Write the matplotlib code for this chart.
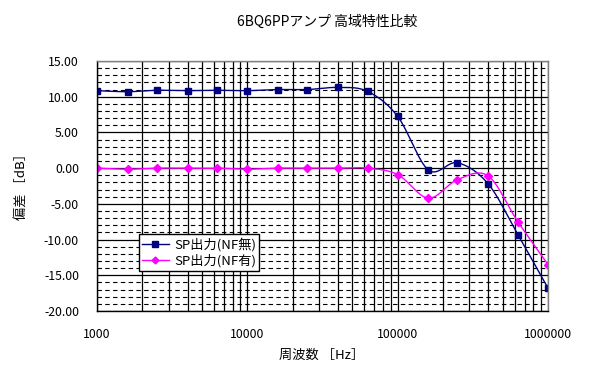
import numpy as np
import matplotlib
matplotlib.use("Agg")
import matplotlib.pyplot as plt
from matplotlib.ticker import FixedLocator, MultipleLocator, NullFormatter

plt.rcParams['font.family'] = ['Noto Sans CJK JP', 'DejaVu Sans']

# data
freq = [1000, 1600, 2500, 4000, 6300, 10000, 16000, 25000, 40000, 63000,
        100000, 160000, 250000, 400000, 630000, 1000000]
nf_off = [10.85, 10.7, 10.9, 10.85, 10.9, 10.85, 11.0, 11.0, 11.3, 10.75,
          7.25, -0.25, 0.75, -2.2, -9.3, -16.8]
nf_on = [0.0, -0.15, 0.0, 0.0, 0.0, -0.15, 0.0, 0.0, 0.0, 0.0,
         -0.9, -4.2, -1.6, -1.1, -7.5, -13.5]
labels = ['SP出力(NF無)', 'SP出力(NF有)']
x_ticks = [1000, 10000, 100000, 1000000]


def smooth(xs, ys, n=20):
    # Catmull-Rom curve in log-x space, like Excel's smoothed line
    lx = np.log10(xs)
    ys = np.asarray(ys, float)
    px = np.concatenate([[2 * lx[0] - lx[1]], lx, [2 * lx[-1] - lx[-2]]])
    py = np.concatenate([[2 * ys[0] - ys[1]], ys, [2 * ys[-1] - ys[-2]]])
    outx, outy = [], []
    t = np.linspace(0, 1, n)
    for i in range(1, len(px) - 2):
        for p, out in ((px, outx), (py, outy)):
            p0, p1, p2, p3 = p[i - 1], p[i], p[i + 1], p[i + 2]
            out.extend(0.5 * (2 * p1 + (-p0 + p2) * t
                              + (2 * p0 - 5 * p1 + 4 * p2 - p3) * t ** 2
                              + (-p0 + 3 * p1 - 3 * p2 + p3) * t ** 3))
    return 10 ** np.array(outx), np.array(outy)


fig = plt.figure(figsize=(5.9, 3.76), dpi=100)
ax = fig.add_axes([97 / 590, 1 - 311 / 376, 451 / 590, 250 / 376])

ax.set_xscale('log')
ax.set_xlim(1000, 1000000)
ax.set_ylim(-20, 15)

# grid
ax.xaxis.set_major_locator(FixedLocator(x_ticks))
ax.xaxis.set_minor_locator(FixedLocator(
    [m * 10 ** e for e in range(3, 6) for m in range(2, 10)]))
ax.xaxis.set_minor_formatter(NullFormatter())
ax.yaxis.set_major_locator(MultipleLocator(5))
ax.yaxis.set_minor_locator(MultipleLocator(1))
ax.grid(True, which='major', axis='both', color='black', lw=0.9)
ax.grid(True, which='minor', axis='x', color='black', lw=0.9)
ax.grid(True, which='minor', axis='y', color='black', lw=0.8, ls=(0, (4, 3)))
ax.set_axisbelow(True)
ax.tick_params(which='both', length=0, labelsize=8.8)
ax.tick_params(axis='x', pad=12)
ax.tick_params(axis='y', pad=13)
ax.set_xticklabels([str(v) for v in x_ticks])
ax.set_yticks(np.arange(-20, 16, 5))
ax.set_yticklabels(['%.2f' % v for v in np.arange(-20, 16, 5)])
for name, s in ax.spines.items():
    s.set_color('black' if name in ('left', 'bottom') else '#808080')
    s.set_linewidth(1)

sx, sy = smooth(freq, nf_off)
ax.plot(sx, sy, color='#000080', lw=1)
ax.plot(freq, nf_off, ls='none', marker='s', ms=5, color='#000080')
sx, sy = smooth(freq, nf_on)
ax.plot(sx, sy, color='#FF00FF', lw=1)
ax.plot(freq, nf_on, ls='none', marker='D', ms=4, color='#FF00FF')

# legend proxies
h1, = ax.plot([], [], color='#000080', lw=1, marker='s', ms=4)
h2, = ax.plot([], [], color='#FF00FF', lw=1, marker='D', ms=3.5)
leg = ax.legend([h1, h2], labels, loc='upper left',
                bbox_to_anchor=((139 - 97) / 451, (311 - 234) / 250),
                fontsize=9.5, fancybox=False, framealpha=1,
                edgecolor='black', borderpad=0.25, labelspacing=0.25,
                handlelength=2.0, handletextpad=0.4, borderaxespad=0)
leg.get_frame().set_linewidth(1)

fig.text(327 / 590, 1 - 22 / 376, '6BQ6PPアンプ 高域特性比較', ha='center',
         va='center', fontsize=10)
fig.text(322 / 590, 1 - 355 / 376, '周波数 ［Hz］', ha='center', va='center',
         fontsize=9.5)
fig.text(22 / 590, 1 - 184 / 376, '偏差 ［dB］', ha='center', va='center',
         rotation=90, fontsize=9.5)

fig.savefig('out.png', dpi=100)
